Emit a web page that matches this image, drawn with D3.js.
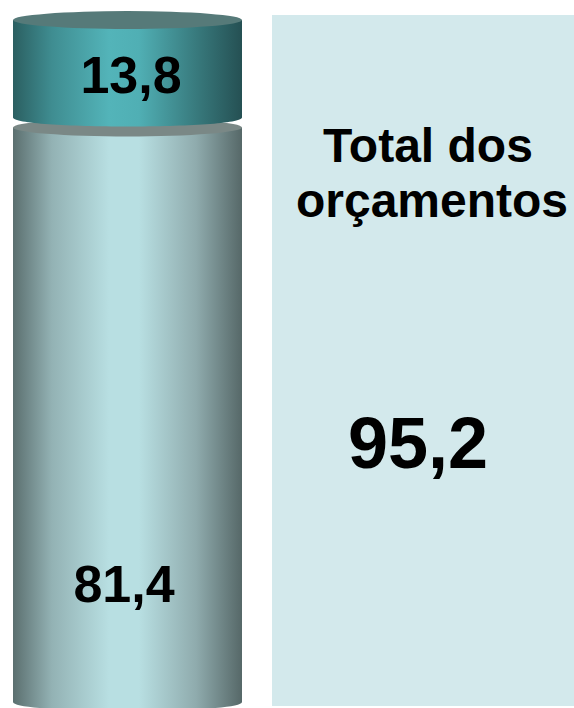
<!DOCTYPE html>
<html>
<head>
<meta charset="utf-8">
<script src="https://cdn.jsdelivr.net/npm/d3@7"></script>
<style>
  html, body { margin: 0; padding: 0; background: #fff; }
  svg { display: block; }
  text { font-family: "Liberation Sans", Arial, sans-serif; font-weight: bold; fill: #000; }
</style>
</head>
<body>
<svg id="chart" width="574" height="708"></svg>
<script>
// data (bottom segment first)
const segments = ["base", "topo"];
const values = [81.4, 13.8];
const totalTitle = ["Total dos", "orçamentos"];
const total = d3.sum(values);

// colours for each segment: side gradient stops + top ellipse
const sideStops = [
  ["#5b6f6f", "#93b2b4", "#b8dfe2", "#b8dfe2", "#8fabad", "#566868"],
  ["#2b5f61", "#3f8d91", "#53b4b9", "#50afb4", "#387a7d", "#255053"]
];
const capColors = ["#7a8886", "#567a79"];

const W = 574, H = 708;
const cx0 = 13, cx1 = 242; // cylinder sides
const ry = 9;
const gap = 10;
const yTop = 20, yBottom = 702;

const ptBR = d3.formatLocale({decimal: ",", thousands: ".", grouping: [3], currency: ["R$", ""]});
const fmt = ptBR.format(".1f");

const svg = d3.select("#chart");
const defs = svg.append("defs");

sideStops.forEach((stops, i) => {
  const g = defs.append("linearGradient")
    .attr("id", "side" + i)
    .attr("x1", "0%").attr("x2", "100%").attr("y1", "0%").attr("y2", "0%");
  const offs = [0, 0.17, 0.42, 0.55, 0.8, 1];
  stops.forEach((c, j) => g.append("stop").attr("offset", offs[j]).attr("stop-color", c));
});

// height scale
const h = d3.scaleLinear()
  .domain([0, total])
  .range([0, yBottom - yTop - gap]);

// stack from the bottom
let cursor = yBottom;
const stacked = values.map((v, i) => {
  const y1 = cursor;
  const y0 = y1 - h(v);
  cursor = y0 - gap;
  return {key: segments[i], value: v, y0: y0, y1: y1, i: i};
});

// right panel
svg.append("rect")
  .attr("x", 272).attr("y", 15)
  .attr("width", W - 272).attr("height", 706 - 15)
  .attr("fill", "#d3e9ec");

const rx = (cx1 - cx0) / 2;
const cx = cx0 + rx;

const cyl = svg.append("g");
stacked.forEach(d => {
  const g = cyl.append("g");
  // side with rounded bottom
  const path = d3.path();
  path.moveTo(cx0, d.y0);
  path.lineTo(cx0, d.y1);
  path.bezierCurveTo(cx0, d.y1 + ry * 1.33, cx1, d.y1 + ry * 1.33, cx1, d.y1);
  path.lineTo(cx1, d.y0);
  path.closePath();
  g.append("path")
    .attr("d", path.toString())
    .attr("fill", `url(#side${d.i})`);
  g.append("ellipse")
    .attr("cx", cx).attr("cy", d.y0)
    .attr("rx", rx).attr("ry", ry)
    .attr("fill", capColors[d.i]);
});

// value labels
const labelPos = [{x: 124, y: 602}, {x: 131, y: 93}];
cyl.selectAll("text.val")
  .data(stacked)
  .join("text")
  .attr("class", "val")
  .attr("x", d => labelPos[d.i].x)
  .attr("y", d => labelPos[d.i].y)
  .attr("text-anchor", "middle")
  .style("font-size", "52px")
  .text(d => fmt(d.value));

// total panel text
svg.selectAll("text.title")
  .data(totalTitle)
  .join("text")
  .attr("class", "title")
  .attr("x", (d, i) => i === 0 ? 428 : 432)
  .attr("y", (d, i) => 162 + i * 55)
  .attr("text-anchor", "middle")
  .style("font-size", "48px")
  .text(d => d);

svg.append("text")
  .attr("x", 418).attr("y", 468)
  .attr("text-anchor", "middle")
  .style("font-size", "72px")
  .text(fmt(total));
</script>
</body>
</html>
